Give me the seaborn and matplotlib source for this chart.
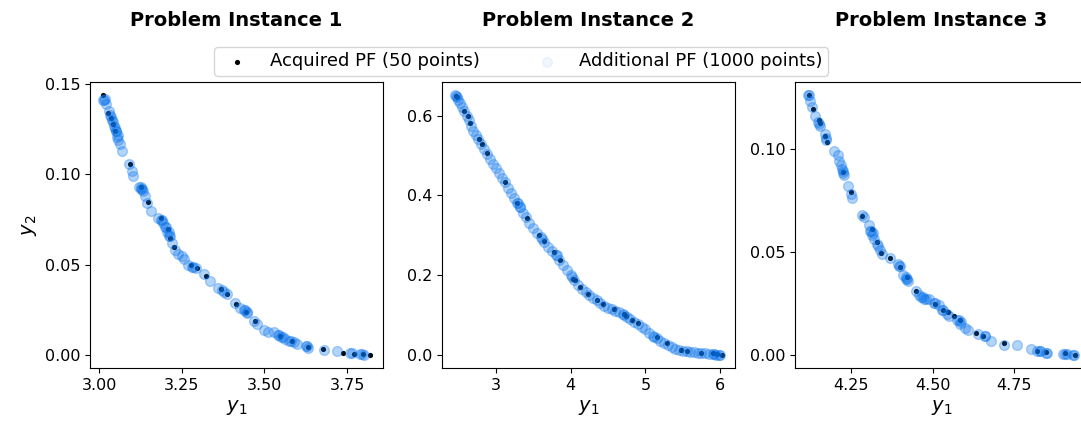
import matplotlib
matplotlib.use("Agg")
import matplotlib.pyplot as plt
import seaborn as sns
import pandas as pd

titles = ["Problem Instance 1", "Problem Instance 2", "Problem Instance 3"]
acq_label = "Acquired PF (50 points)"
add_label = "Additional PF (1000 points)"

# ---- Problem instance 1 ----
acq1_x = [3.013, 3.026, 3.035, 3.041, 3.048, 3.093, 3.128, 3.148, 3.188, 3.208, 3.215, 3.226,
          3.278, 3.296, 3.323, 3.368, 3.388, 3.413, 3.443, 3.471, 3.548, 3.583, 3.633, 3.678,
          3.736, 3.771, 3.798, 3.818]
acq1_y = [0.144, 0.134, 0.131, 0.128, 0.124, 0.106, 0.093, 0.085, 0.076, 0.070, 0.065, 0.060,
          0.050, 0.048, 0.044, 0.0365, 0.034, 0.028, 0.024, 0.019, 0.0106, 0.0079, 0.0046, 0.0031,
          0.0013, 0.0005, 0.0005, 0.0]
add1_x = [3.013, 3.018, 3.022, 3.030, 3.036, 3.040, 3.045, 3.050, 3.054, 3.058, 3.062, 3.070,
          3.090, 3.100, 3.104, 3.122, 3.128, 3.134, 3.140, 3.146, 3.156, 3.178, 3.186, 3.192,
          3.200, 3.205, 3.212, 3.220, 3.230, 3.240, 3.250, 3.258, 3.268, 3.282, 3.292, 3.318,
          3.335, 3.360, 3.372, 3.386, 3.410, 3.425, 3.438, 3.448, 3.468, 3.478, 3.500, 3.512,
          3.528, 3.540, 3.550, 3.562, 3.574, 3.588, 3.598, 3.626, 3.632, 3.680, 3.720, 3.760,
          3.790, 3.800,
          3.016, 3.032, 3.042, 3.048, 3.052, 3.056, 3.126, 3.130, 3.190, 3.202, 3.210, 3.214,
          3.285, 3.378, 3.442, 3.446, 3.545, 3.556, 3.580, 3.630, 3.765, 3.795]
add1_y = [0.141, 0.142, 0.139, 0.135, 0.132, 0.130, 0.127, 0.124, 0.121, 0.119, 0.117, 0.113,
          0.106, 0.102, 0.099, 0.093, 0.092, 0.091, 0.088, 0.084, 0.080, 0.076, 0.075, 0.073,
          0.071, 0.068, 0.066, 0.062, 0.058, 0.056, 0.055, 0.053, 0.050, 0.049, 0.048, 0.045,
          0.041, 0.037, 0.036, 0.034, 0.029, 0.026, 0.025, 0.023, 0.019, 0.017, 0.014, 0.013,
          0.013, 0.011, 0.010, 0.009, 0.008, 0.007, 0.006, 0.005, 0.004, 0.003, 0.002, 0.001,
          0.0005, 0.0,
          0.141, 0.133, 0.129, 0.126, 0.124, 0.122, 0.093, 0.092, 0.075, 0.071, 0.068, 0.066,
          0.049, 0.035, 0.025, 0.024, 0.011, 0.010, 0.008, 0.005, 0.001, 0.0005]

# ---- Problem instance 2 ----
acq2_x = [2.47, 2.48, 2.58, 2.625, 2.656, 2.775, 2.81, 2.885, 3.128, 3.287, 3.42, 3.58, 3.64,
          3.78, 3.86, 4.03, 4.06, 4.13, 4.23, 4.35, 4.43, 4.575, 4.71, 4.74, 4.82, 4.905, 5.15,
          5.29, 5.48, 5.55, 5.75, 5.90, 5.96, 6.02]
acq2_y = [0.650, 0.648, 0.612, 0.600, 0.582, 0.542, 0.528, 0.506, 0.433, 0.382, 0.343, 0.300,
          0.286, 0.259, 0.238, 0.190, 0.188, 0.170, 0.154, 0.138, 0.127, 0.116, 0.102, 0.099,
          0.087, 0.081, 0.044, 0.029, 0.0124, 0.0108, 0.0058, 0.004, 0.0025, 0.0]
add2_x = [2.46, 2.48, 2.50, 2.52, 2.55, 2.58, 2.61, 2.64, 2.67, 2.70, 2.73, 2.76, 2.80, 2.84,
          2.88, 2.92, 2.96, 3.00, 3.04, 3.08, 3.12, 3.16, 3.20, 3.24, 3.28, 3.32, 3.36, 3.40,
          3.45, 3.50, 3.55, 3.60, 3.65, 3.70, 3.75, 3.80, 3.85, 3.90, 3.95, 4.00, 4.05, 4.10,
          4.15, 4.20, 4.25, 4.30, 4.35, 4.40, 4.45, 4.50, 4.55, 4.60, 4.65, 4.70, 4.75, 4.80,
          4.85, 4.90, 4.95, 5.00, 5.05, 5.10, 5.15, 5.20, 5.25, 5.30, 5.35, 5.40, 5.45, 5.50,
          5.55, 5.60, 5.65, 5.70, 5.75, 5.80, 5.85, 5.90, 5.95, 6.00,
          2.47, 3.30, 3.33, 3.62, 3.82, 4.02, 4.72, 5.12, 5.92, 5.98]
add2_y = [0.652, 0.648, 0.640, 0.632, 0.622, 0.612, 0.600, 0.590, 0.575, 0.562, 0.552, 0.542,
          0.528, 0.516, 0.505, 0.492, 0.480, 0.468, 0.456, 0.445, 0.433, 0.420, 0.405, 0.393,
          0.382, 0.370, 0.356, 0.345, 0.332, 0.318, 0.305, 0.295, 0.283, 0.270, 0.262, 0.252,
          0.238, 0.225, 0.213, 0.200, 0.188, 0.176, 0.166, 0.157, 0.150, 0.143, 0.137, 0.130,
          0.124, 0.119, 0.115, 0.111, 0.107, 0.102, 0.096, 0.090, 0.084, 0.078, 0.071, 0.064,
          0.056, 0.048, 0.042, 0.036, 0.030, 0.025, 0.020, 0.016, 0.013, 0.011, 0.009, 0.008,
          0.007, 0.006, 0.005, 0.004, 0.003, 0.002, 0.001, 0.0,
          0.650, 0.380, 0.372, 0.290, 0.250, 0.195, 0.101, 0.046, 0.002, 0.001]

# ---- Problem instance 3 ----
acq3_x = [4.121, 4.133, 4.154, 4.156, 4.172, 4.176, 4.225, 4.25, 4.283, 4.316, 4.331, 4.343,
          4.369, 4.402, 4.422, 4.448, 4.509, 4.531, 4.547, 4.567, 4.585, 4.632, 4.656, 4.72,
          4.821, 4.848, 4.904, 4.935]
acq3_y = [0.1259, 0.1192, 0.1139, 0.1123, 0.1062, 0.1032, 0.0887, 0.0791, 0.0676, 0.0612,
          0.0548, 0.0492, 0.0471, 0.0428, 0.0380, 0.0308, 0.0248, 0.0220, 0.0209, 0.0189,
          0.0168, 0.0105, 0.0093, 0.0056, 0.0021, 0.0013, 0.0008, 0.0]
add3_x = [4.120, 4.125, 4.130, 4.140, 4.150, 4.155, 4.170, 4.175, 4.200, 4.210, 4.215, 4.220,
          4.225, 4.228, 4.240, 4.250, 4.255, 4.285, 4.290, 4.305, 4.310, 4.315, 4.320, 4.330,
          4.340, 4.345, 4.370, 4.395, 4.400, 4.410, 4.420, 4.425, 4.450, 4.460, 4.470, 4.480,
          4.490, 4.505, 4.520, 4.530, 4.545, 4.550, 4.575, 4.585, 4.600, 4.610, 4.640, 4.660,
          4.680, 4.720, 4.760, 4.800, 4.820, 4.830, 4.850, 4.900, 4.910, 4.930,
          4.122, 4.152, 4.174, 4.222, 4.226, 4.312, 4.318, 4.332, 4.398, 4.418, 4.422, 4.466,
          4.474, 4.508, 4.532, 4.580, 4.586, 4.662, 4.828, 4.846, 4.905, 4.932]
add3_y = [0.126, 0.123, 0.120, 0.116, 0.113, 0.111, 0.107, 0.104, 0.099, 0.097, 0.094, 0.092,
          0.089, 0.087, 0.082, 0.078, 0.076, 0.068, 0.067, 0.063, 0.060, 0.058, 0.056, 0.054,
          0.051, 0.049, 0.047, 0.044, 0.043, 0.039, 0.037, 0.036, 0.031, 0.029, 0.028, 0.027,
          0.027, 0.025, 0.024, 0.022, 0.020, 0.019, 0.017, 0.015, 0.013, 0.012, 0.010, 0.009,
          0.007, 0.005, 0.005, 0.003, 0.002, 0.002, 0.001, 0.0005, 0.0005, 0.0,
          0.126, 0.112, 0.105, 0.090, 0.088, 0.060, 0.059, 0.053, 0.043, 0.038, 0.037, 0.028,
          0.027, 0.025, 0.022, 0.017, 0.016, 0.009, 0.002, 0.001, 0.0005, 0.0]

x_ticks = [[3.00, 3.25, 3.50, 3.75], [3, 4, 5, 6], [4.25, 4.50, 4.75]]
x_ticklabels = [["3.00", "3.25", "3.50", "3.75"], ["3", "4", "5", "6"], ["4.25", "4.50", "4.75"]]
y_ticks = [[0.00, 0.05, 0.10, 0.15], [0.0, 0.2, 0.4, 0.6], [0.00, 0.05, 0.10]]
y_ticklabels = [["0.00", "0.05", "0.10", "0.15"], ["0.0", "0.2", "0.4", "0.6"], ["0.00", "0.05", "0.10"]]

acq_sets = [(acq1_x, acq1_y), (acq2_x, acq2_y), (acq3_x, acq3_y)]
add_sets = [(add1_x, add1_y), (add2_x, add2_y), (add3_x, add3_y)]

W, H = 1081, 425
fig = plt.figure(figsize=(W / 100, H / 100), dpi=100)
lefts = [90, 442, 795]
ax_w = 293
ax_bottom = 57
ax_h = 286
blue = "#0672ec"

axes = []
for i in range(3):
    ax = fig.add_axes([lefts[i] / W, ax_bottom / H, ax_w / W, ax_h / H])
    axes.append(ax)
    ax_x, ax_y = acq_sets[i]
    ad_x, ad_y = add_sets[i]
    sns.scatterplot(data=pd.DataFrame({"x": ax_x, "y": ax_y}), x="x", y="y", ax=ax,
                    color="black", s=14, linewidth=0, label=acq_label, zorder=2)
    sns.scatterplot(data=pd.DataFrame({"x": ad_x, "y": ad_y}), x="x", y="y", ax=ax,
                    color=blue, s=50, alpha=0.3, edgecolor=blue, linewidth=1,
                    label=add_label, zorder=3)
    ax.set_title(titles[i], fontsize=14, fontweight="bold", pad=40)
    ax.set_xlabel("$y_1$", fontsize=14)
    ax.set_ylabel("$y_2$" if i == 0 else "", fontsize=14)
    ax.set_xticks(x_ticks[i], x_ticklabels[i])
    ax.set_yticks(y_ticks[i], y_ticklabels[i])
    ax.tick_params(labelsize=11.5)
    ax.get_legend().remove()

handles, labels = axes[0].get_legend_handles_labels()
leg = fig.legend(handles, labels, loc="upper center", ncol=2, fontsize=13,
                 bbox_to_anchor=(521 / W, 1 - 38 / H), columnspacing=2.7, frameon=True,
                 borderpad=0.3)
leg.legend_handles[1].set_alpha(0.06)

fig.savefig("out.png", dpi=100)
